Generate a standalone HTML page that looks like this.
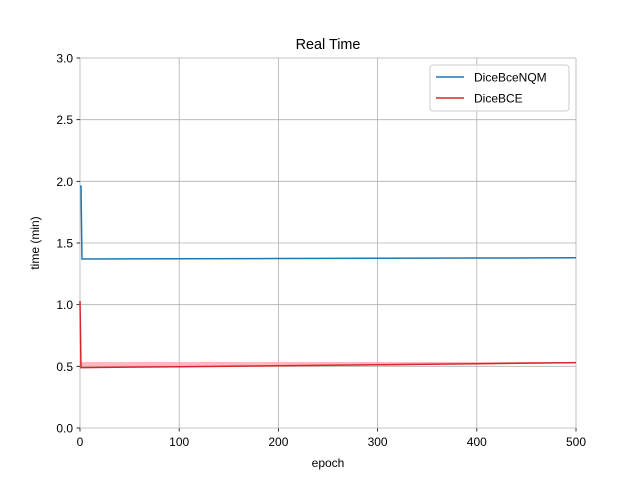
<!DOCTYPE html>
<html><head><meta charset="utf-8"><style>
body{margin:0;background:#fff;}
svg{display:block;font-family:"Liberation Sans","DejaVu Sans",sans-serif;}
</style></head><body>
<svg id="chart" width="640" height="480"></svg>
<script>
const epochs=[0,1,2,100,200,300,400,500];
const diceBceNQM=[1.96,1.96,1.37,1.372,1.374,1.376,1.378,1.38];
const diceBCE=[1.03,0.49,0.49,0.497,0.505,0.513,0.521,0.53];
const diceBCEUpper=[1.07,0.535,0.535,0.535,0.535,0.535,0.535,0.535];
const xTicks=[0,100,200,300,400,500];
const yTicks=[0.0,0.5,1.0,1.5,2.0,2.5,3.0];
const NS="http://www.w3.org/2000/svg";
const svg=document.getElementById('chart');
const X0=80,X1=576,Y0=428,Y1=58;
const sx=v=>X0+(v-0)/(500-0)*(X1-X0);
const sy=v=>Y0-(v-0)/(3-0)*(Y0-Y1);
function el(t,a){const e=document.createElementNS(NS,t);for(const k in a)e.setAttribute(k,a[k]);svg.appendChild(e);return e;}
xTicks.forEach(t=>{
  const g=el('line',{x1:sx(t),x2:sx(t),y1:Y1,y2:Y0,stroke:'#b0b0b0','stroke-width':0.8});
  
  
  const tk=el('line',{x1:sx(t),x2:sx(t),y1:Y0,y2:Y0+3.5,stroke:'#000','stroke-width':0.8});
  
  
  const tx=el('text',{x:sx(t),y:Y0+18,'text-anchor':'middle','font-size':12});
  tx.textContent=t;
  
  
});
yTicks.forEach(t=>{
  const g=el('line',{x1:X0,x2:X1,y1:sy(t),y2:sy(t),stroke:'#b0b0b0','stroke-width':0.8});
  
  
  const tk=el('line',{x1:X0-3.5,x2:X0,y1:sy(t),y2:sy(t),stroke:'#000','stroke-width':0.8});
  
  
  const tx=el('text',{x:X0-7,y:sy(t)+4.5,'text-anchor':'end','font-size':12});
  tx.textContent=t.toFixed(1);
  
  
});
// band
let bp=epochs.map((e,i)=>sx(e)+','+sy(diceBCEUpper[i])).join(' ')+' '+epochs.slice().reverse().map((e,j)=>{const i=epochs.length-1-j;return sx(e)+','+sy(diceBCE[i]);}).join(' ');
const band=el('polygon',{points:bp,fill:'#ff9aa8',opacity:0.7});


const l1=el('polyline',{points:epochs.map((e,i)=>sx(e)+','+sy(diceBceNQM[i])).join(' '),fill:'none',stroke:'#1f77b4','stroke-width':1.5});


const l2=el('polyline',{points:epochs.map((e,i)=>sx(e)+','+sy(diceBCE[i])).join(' '),fill:'none',stroke:'#d62728','stroke-width':1.5});


const title=el('text',{x:328,y:49,'text-anchor':'middle','font-size':14.4});
title.textContent='Real Time';


const xl=el('text',{x:328,y:467,'text-anchor':'middle','font-size':12});
xl.textContent='epoch';


const yl=el('text',{x:39,y:243,'text-anchor':'middle','font-size':12,transform:'rotate(-90 39 243)'});
yl.textContent='time (min)';


const lg=el('rect',{x:430,y:65,width:139,height:46,rx:3,fill:'#fff','fill-opacity':0.8,stroke:'#ccc'});


[['DiceBceNQM','#1f77b4',77],['DiceBCE','#d62728',98]].forEach(([n,c,y])=>{
  const ln=el('line',{x1:436,x2:464,y1:y,y2:y,stroke:c,'stroke-width':1.5});
  
  
  const t=el('text',{x:474,y:y+4.5,'font-size':12});
  t.textContent=n;
  
  
});
</script>
</body></html>
